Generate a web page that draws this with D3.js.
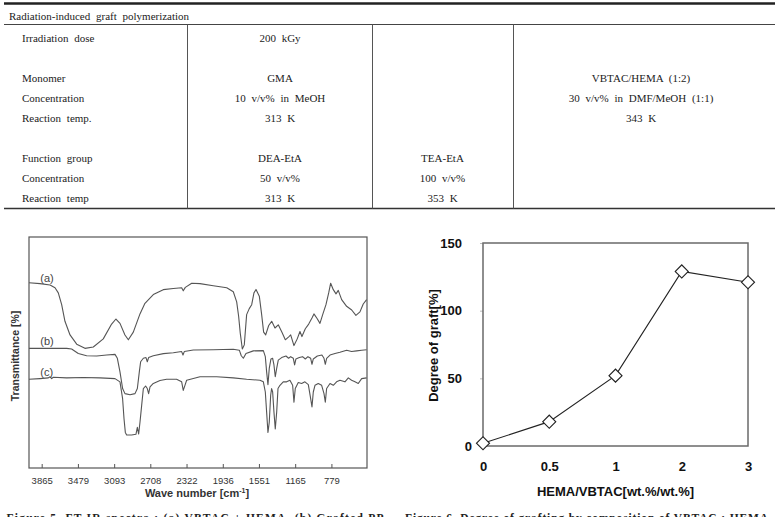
<!DOCTYPE html>
<html><head><meta charset="utf-8">
<script src="https://cdn.jsdelivr.net/npm/d3@7"></script>
<style>body{margin:0;background:#fff}svg{display:block}</style>
</head><body>
<svg id="c" width="775" height="517"></svg>
<script>
// ---------- Table data ----------
const tableHeader = "Radiation-induced graft polymerization";
const rowLabels = ["Irradiation dose","","Monomer","Concentration","Reaction temp.","","Function group","Concentration","Reaction temp"];
const colGMA   = ["200 kGy","","GMA","10 v/v% in MeOH","313 K","","DEA-EtA","50 v/v%","313 K"];
const colTEA   = ["","","","","","","TEA-EtA","100 v/v%","353 K"];
const colVBTAC = ["","","VBTAC/HEMA (1:2)","30 v/v% in DMF/MeOH (1:1)","343 K","","","",""];

// ---------- FT-IR spectra (wavenumber cm-1, transmittance a.u. %) ----------
const irTicks = [3865,3479,3093,2708,2322,1936,1551,1165,779];
const irLabels = ["(a)","(b)","(c)"];
const irLabelT = [82.3,54.7,41.7];
const specA = [[4000,80.2],[3883,79.8],[3776,79.2],[3723,78.0],[3688,75.8],[3652,70.7],[3617,63.5],[3563,57.6],[3492,53.6],[3404,51.8],[3315,52.4],[3209,55.9],[3120,62.3],[3074,64.5],[3031,62.6],[2978,57.6],[2942,55.5],[2889,58.8],[2818,66.7],[2765,71.3],[2676,75.1],[2570,77.2],[2463,77.7],[2374,78.0],[2357,76.7],[2335,78.2],[2267,80.0],[2179,79.8],[2037,78.9],[1894,78.0],[1824,76.3],[1788,71.9],[1767,65.6],[1750,58.4],[1728,51.5],[1707,53.3],[1682,66.4],[1654,69.0],[1628,70.7],[1604,75.8],[1582,77.3],[1547,74.4],[1522,66.4],[1501,58.8],[1479,57.6],[1447,61.7],[1415,63.5],[1380,60.6],[1345,62.0],[1306,58.8],[1270,55.5],[1234,56.8],[1213,57.6],[1178,53.0],[1143,55.9],[1114,59.1],[1093,56.9],[1057,60.3],[1021,62.3],[986,64.9],[965,66.7],[930,64.6],[901,62.6],[872,66.4],[837,70.7],[808,75.8],[787,80.0],[759,77.2],[730,75.4],[706,76.9],[670,72.9],[617,70.0],[563,68.4],[518,66.1],[475,67.6],[440,71.0],[404,72.9]];
const specB = [[4000,51.8],[3776,51.8],[3599,51.8],[3546,51.5],[3475,49.6],[3386,48.6],[3279,48.5],[3173,48.9],[3084,49.2],[3059,47.5],[3031,41.6],[3003,34.4],[2978,32.2],[2924,31.7],[2871,32.2],[2846,34.4],[2825,41.6],[2811,46.0],[2782,47.5],[2754,47.8],[2740,46.0],[2726,47.8],[2676,48.6],[2569,49.5],[2463,49.9],[2374,50.4],[2360,48.9],[2346,50.4],[2250,51.1],[2037,51.2],[1824,51.4],[1760,51.0],[1739,48.6],[1717,47.5],[1689,49.6],[1611,50.7],[1504,50.8],[1483,48.2],[1469,41.6],[1455,36.1],[1441,43.1],[1423,47.2],[1405,47.5],[1391,44.6],[1377,39.5],[1362,43.1],[1345,46.7],[1309,47.8],[1263,48.5],[1235,47.5],[1213,48.2],[1185,47.5],[1171,44.6],[1157,47.2],[1121,47.8],[1086,48.2],[1057,47.2],[1029,48.2],[1000,47.5],[986,44.9],[972,47.2],[929,48.5],[880,48.9],[858,47.5],[844,44.9],[830,47.5],[794,48.9],[741,49.6],[688,50.1],[617,51.0],[564,50.4],[510,50.7],[457,51.0],[404,51.2]];
const specC = [[4000,38.4],[3883,38.7],[3794,39.0],[3776,39.5],[3759,38.7],[3741,39.3],[3599,39.0],[3421,39.2],[3244,39.0],[3084,38.7],[3031,37.3],[3003,30.0],[2988,21.3],[2974,15.4],[2960,14.3],[2907,14.3],[2861,14.6],[2846,17.6],[2832,14.7],[2818,19.8],[2800,27.1],[2782,34.4],[2758,35.5],[2740,34.4],[2726,32.2],[2711,35.1],[2676,36.6],[2605,37.9],[2534,38.4],[2428,38.4],[2374,37.3],[2357,33.6],[2339,35.8],[2321,38.0],[2179,39.5],[2001,39.5],[1824,39.0],[1682,38.4],[1540,38.0],[1504,37.3],[1483,32.9],[1469,24.2],[1455,15.4],[1441,19.8],[1426,31.5],[1416,34.4],[1405,32.9],[1391,24.2],[1377,16.9],[1362,24.2],[1348,34.4],[1327,35.8],[1292,37.3],[1256,37.3],[1221,38.0],[1192,35.8],[1178,28.5],[1164,34.4],[1132,37.0],[1096,36.6],[1061,37.3],[1025,36.1],[1000,30.0],[986,26.4],[972,32.9],[954,35.8],[919,36.6],[883,35.8],[858,32.2],[844,28.5],[830,34.4],[794,36.6],[759,35.8],[724,37.3],[688,38.0],[635,37.3],[599,39.0],[564,38.0],[528,37.3],[493,36.6],[457,38.7],[404,39.0]];

// ---------- Degree of graft data ----------
const hemaRatio = ["0","0.5","1","2","3"];
const degreeGraft = [2,18,52,129,121];
const graftTicks = [0,50,100,150];

const svg = d3.select("#c");
svg.append("rect").attr("width",775).attr("height",517).attr("fill","#fff");

// ---------- Table ----------
const serif = "'Liberation Serif','Times New Roman',serif";
const sans = "'Liberation Sans',Arial,sans-serif";
const tbl = svg.append("g").attr("font-family",serif).attr("font-size",11).attr("fill","#222").style("word-spacing","3px");
tbl.append("line").attr("x1",4).attr("x2",775).attr("y1",3.5).attr("y2",3.5).attr("stroke","#222").attr("stroke-width",2.6);
tbl.append("text").attr("x",9).attr("y",16).attr("dy","0.35em").text(tableHeader);
tbl.append("line").attr("x1",4).attr("x2",775).attr("y1",24.5).attr("y2",24.5).attr("stroke","#444").attr("stroke-width",1);
tbl.append("line").attr("x1",4).attr("x2",775).attr("y1",208.5).attr("y2",208.5).attr("stroke","#333").attr("stroke-width",1.4);
[187.5,372.5,513.5].forEach(x=>tbl.append("line").attr("x1",x).attr("x2",x).attr("y1",24.5).attr("y2",208.5).attr("stroke","#555").attr("stroke-width",1));
const rowY = d3.scaleLinear().domain([0,8]).range([38.5,198.5]);
tbl.selectAll("text.lab").data(rowLabels).join("text").attr("class","lab")
  .attr("x",22).attr("y",(d,i)=>rowY(i)).attr("dy","0.35em").text(d=>d);
[[colGMA,280],[colTEA,442.5],[colVBTAC,641]].forEach(([col,cx],k)=>{
  tbl.selectAll("text.c"+k).data(col).join("text").attr("class","c"+k)
    .attr("x",cx).attr("y",(d,i)=>rowY(i)).attr("dy","0.35em").attr("text-anchor","middle").text(d=>d);
});

// ---------- FT-IR chart ----------
const xIR = d3.scaleLinear().domain([4000,400]).range([29,367]);
const yIR = d3.scaleLinear().domain([0,100]).range([468,237]);
const ir = svg.append("g");
ir.append("rect").attr("x",29).attr("y",237).attr("width",338).attr("height",231)
  .attr("fill","none").attr("stroke","#555").attr("stroke-width",1.2);
const irAxis = ir.append("g").attr("transform","translate(0,468)")
  .call(d3.axisBottom(xIR).tickValues(irTicks).tickSize(-4).tickPadding(9).tickFormat(d3.format("d")));
irAxis.select(".domain").remove();
irAxis.selectAll(".tick line").attr("stroke","#555");
irAxis.selectAll("text").attr("font-family",sans).attr("font-size",9.5).attr("fill","#333");
const lineIR = d3.line().x(d=>xIR(d[0])).y(d=>yIR(d[1]));
[specA,specB,specC].forEach(s=>{
  ir.append("path").datum(s).attr("d",lineIR).attr("fill","none").attr("stroke","#555").attr("stroke-width",1.1).attr("stroke-linejoin","round");
});
ir.selectAll("text.lbl").data(irLabels).join("text").attr("class","lbl")
  .attr("x",xIR(3880)).attr("y",(d,i)=>yIR(irLabelT[i])).attr("dy","0.35em")
  .attr("font-family",sans).attr("font-size",11).attr("fill","#444").text(d=>d);
const wt = ir.append("text").attr("x",197).attr("y",497).attr("text-anchor","middle")
  .attr("font-family",sans).attr("font-size",11).attr("font-weight","bold").attr("fill","#333");
wt.append("tspan").text("Wave number [cm");
wt.append("tspan").attr("font-size",7).attr("dy",-4).text("-1");
wt.append("tspan").attr("dy",4).text("]");
ir.append("text").attr("transform","translate(19,356) rotate(-90)").attr("text-anchor","middle")
  .attr("font-family",sans).attr("font-size",10.5).attr("font-weight","bold").attr("fill","#333").text("Transmittance [%]");

// ---------- Degree of graft chart ----------
const xG = d3.scalePoint().domain(hemaRatio).range([483,748]).padding(0);
const yG = d3.scaleLinear().domain([0,150]).range([446,243]);
const g = svg.append("g");
const ya = g.append("g").attr("transform","translate(483,0)")
  .call(d3.axisLeft(yG).tickValues(graftTicks).tickSize(3).tickPadding(18));
ya.select(".domain").remove();
ya.selectAll(".tick line").attr("stroke","#bbb");
ya.selectAll("text").attr("font-family",sans).attr("font-size",13).attr("font-weight","bold").attr("fill","#111");
ya.selectAll(".tick").filter(d=>d===0).select("text").attr("x",-11);
const xa = g.append("g").attr("transform","translate(0,446)")
  .call(d3.axisBottom(xG).tickSize(0).tickPadding(16));
xa.select(".domain").remove();
xa.selectAll("text").attr("font-family",sans).attr("font-size",13).attr("font-weight","bold").attr("fill","#111");
g.append("path").datum(degreeGraft).attr("fill","none").attr("stroke","#222").attr("stroke-width",1.1)
  .attr("d",d3.line().x((d,i)=>xG(hemaRatio[i])).y(d=>yG(d)));
g.append("rect").attr("x",483).attr("y",243).attr("width",265).attr("height",203)
  .attr("fill","none").attr("stroke","#6a6a6a").attr("stroke-width",1.5);
g.selectAll("path.m").data(degreeGraft).join("path").attr("class","m")
  .attr("d",d3.symbol(d3.symbolSquare,85))
  .attr("transform",(d,i)=>`translate(${xG(hemaRatio[i])},${yG(d)}) rotate(45)`)
  .attr("fill","#fff").attr("stroke","#222").attr("stroke-width",1.1);
g.append("text").attr("x",615.5).attr("y",496).attr("text-anchor","middle")
  .attr("font-family",sans).attr("font-size",13).attr("font-weight","bold").attr("fill","#111").text("HEMA/VBTAC[wt.%/wt.%]");
g.append("text").attr("transform","translate(438,345.5) rotate(-90)").attr("text-anchor","middle")
  .attr("font-family",sans).attr("font-size",13).attr("font-weight","bold").attr("fill","#111").text("Degree of graft[%]");

// ---------- Captions (cut off at bottom, as in the source page) ----------
svg.append("text").attr("x",6.5).attr("y",522).attr("textLength",380).attr("lengthAdjust","spacing")
  .attr("font-family",serif).attr("font-size",11.5).attr("font-weight","bold").attr("fill","#222")
  .text("Figure 5. FT-IR spectra : (a) VBTAC + HEMA, (b) Grafted PP,");
svg.append("text").attr("x",405).attr("y",522).attr("textLength",363).attr("lengthAdjust","spacing")
  .attr("font-family",serif).attr("font-size",11.5).attr("font-weight","bold").attr("fill","#222")
  .text("Figure 6. Degree of grafting by composition of VBTAC : HEMA");
</script>
</body></html>
